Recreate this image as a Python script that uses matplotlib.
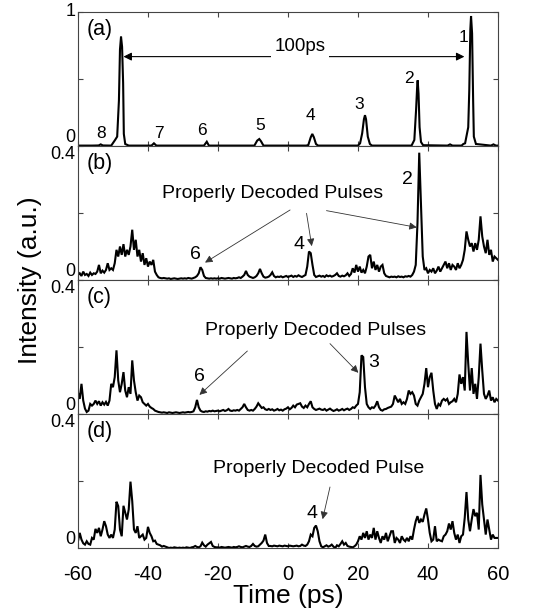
import numpy as np
import matplotlib
matplotlib.use("Agg")
import matplotlib.pyplot as plt

plt.rcParams['font.family'] = ['Liberation Sans', 'DejaVu Sans']
plt.rcParams['axes.unicode_minus'] = False

# ---------------- data ----------------
# (a) encoded pulse train (non-uniform sampling)
t_a = [-60, -56, -54.1, -53.5, -52.9, -50.5, -49.4, -48.8, -48.3, -48.0,
       -47.7, -47.4, -47.1, -46.9, -46.5, -45.5, -39.0, -38.3, -37.6, -24.0,
       -23.2, -22.6, -9.6, -8.8, -8.2, -7.7, -7.0, 5.2, 5.8, 6.5,
       6.95, 7.4, 8.0, 8.6, 20.0, 20.6, 21.2, 21.7, 22.0, 22.3,
       22.8, 23.4, 24.0, 35.3, 36.1, 36.6, 36.9, 37.05, 37.3, 37.6,
       38.0, 38.6, 45.6, 46.3, 47.0, 49.6, 50.1, 50.6, 51.5, 51.8,
       52.1, 52.3, 52.6, 52.9, 53.1, 53.7, 58.0, 58.7, 59.4, 60]
y_a = [0.003, 0.003, 0.004, 0.012, 0.004, 0.003, 0.045, 0.07, 0.34, 0.72,
       0.816, 0.74, 0.47, 0.09, 0.015, 0.003, 0.003, 0.02, 0.003, 0.003,
       0.032, 0.003, 0.003, 0.04, 0.052, 0.035, 0.003, 0.003, 0.007, 0.065,
       0.09, 0.065, 0.015, 0.003, 0.003, 0.02, 0.095, 0.2, 0.23, 0.2,
       0.07, 0.015, 0.003, 0.003, 0.045, 0.27, 0.44, 0.49, 0.39, 0.14,
       0.03, 0.006, 0.003, 0.012, 0.003, 0.003, 0.015, 0.02, 0.14, 0.42,
       0.87, 0.97, 0.84, 0.34, 0.07, 0.015, 0.003, 0.012, 0.003, 0.003]

# (b), (c), (d): decoded traces sampled every 0.5 ps from -60 to 60 ps
y_b = [0.015, 0.02, 0.012, 0.025, 0.015, 0.018, 0.012, 0.022, 0.015, 0.02,
       0.018, 0.025, 0.045, 0.02, 0.028, 0.022, 0.03, 0.05, 0.03, 0.035,
       0.03, 0.05, 0.09, 0.07, 0.1, 0.075, 0.107, 0.07, 0.09, 0.075,
       0.1, 0.15, 0.09, 0.12, 0.07, 0.09, 0.055, 0.08, 0.045, 0.065,
       0.04, 0.055, 0.045, 0.06, 0.025, 0.015, 0.008, 0.006, 0.005, 0.006,
       0.005, 0.004, 0.005, 0.003, 0.004, 0.005, 0.004, 0.003, 0.004, 0.005,
       0.004, 0.005, 0.004, 0.006, 0.005, 0.004, 0.006, 0.008, 0.012, 0.02,
       0.038, 0.03, 0.012, 0.006, 0.005, 0.004, 0.005, 0.004, 0.005, 0.004,
       0.005, 0.004, 0.006, 0.005, 0.004, 0.005, 0.006, 0.005, 0.004, 0.006,
       0.005, 0.006, 0.008, 0.006, 0.01, 0.015, 0.027, 0.015, 0.01, 0.008,
       0.006, 0.008, 0.012, 0.02, 0.033, 0.02, 0.01, 0.007, 0.008, 0.01,
       0.015, 0.023, 0.012, 0.008, 0.01, 0.009, 0.011, 0.008, 0.01, 0.012,
       0.009, 0.011, 0.013, 0.009, 0.012, 0.01, 0.014, 0.011, 0.009, 0.012,
       0.015, 0.04, 0.085, 0.08, 0.045, 0.015, 0.009, 0.011, 0.013, 0.01,
       0.012, 0.009, 0.014, 0.011, 0.013, 0.01, 0.012, 0.015, 0.02, 0.012,
       0.01, 0.013, 0.011, 0.014, 0.02, 0.012, 0.018, 0.035, 0.022, 0.045,
       0.025, 0.04, 0.022, 0.03, 0.02, 0.04, 0.07, 0.075, 0.035, 0.055,
       0.03, 0.045, 0.025, 0.04, 0.045, 0.02, 0.012, 0.01, 0.008, 0.01,
       0.009, 0.01, 0.008, 0.011, 0.009, 0.01, 0.008, 0.011, 0.01, 0.012,
       0.01, 0.015, 0.025, 0.045, 0.17, 0.38, 0.22, 0.07, 0.03, 0.035,
       0.02, 0.03, 0.025, 0.035, 0.02, 0.028, 0.04, 0.025, 0.035, 0.045,
       0.055, 0.035, 0.05, 0.03, 0.045, 0.04, 0.03, 0.05, 0.035, 0.045,
       0.06, 0.09, 0.145, 0.12, 0.1, 0.11, 0.085, 0.11, 0.09, 0.12,
       0.19, 0.13, 0.1, 0.08, 0.12, 0.075, 0.09, 0.055, 0.07, 0.065,
       0.06]

y_c = [0.064, 0.045, 0.09, 0.04, 0.016, 0.006, 0.01, 0.03, 0.025, 0.03,
       0.04, 0.03, 0.038, 0.025, 0.035, 0.028, 0.036, 0.025, 0.04, 0.09,
       0.08, 0.11, 0.19, 0.1, 0.065, 0.09, 0.125, 0.07, 0.05, 0.08,
       0.06, 0.16, 0.1, 0.065, 0.04, 0.055, 0.05, 0.035, 0.03, 0.025,
       0.03, 0.022, 0.018, 0.015, 0.01, 0.008, 0.006, 0.005, 0.004, 0.005,
       0.004, 0.003, 0.005, 0.004, 0.003, 0.004, 0.005, 0.004, 0.003, 0.004,
       0.005, 0.004, 0.005, 0.006, 0.005, 0.006, 0.008, 0.02, 0.042, 0.02,
       0.01, 0.007, 0.006, 0.008, 0.007, 0.009, 0.008, 0.01, 0.008, 0.009,
       0.01, 0.008, 0.01, 0.012, 0.009, 0.011, 0.015, 0.01, 0.009, 0.011,
       0.01, 0.012, 0.01, 0.015, 0.02, 0.03, 0.02, 0.012, 0.01, 0.012,
       0.01, 0.015, 0.022, 0.032, 0.025, 0.018, 0.02, 0.014, 0.012, 0.015,
       0.012, 0.014, 0.01, 0.012, 0.015, 0.011, 0.013, 0.01, 0.014, 0.016,
       0.02, 0.014, 0.018, 0.025, 0.02, 0.028, 0.03, 0.032, 0.022, 0.018,
       0.025, 0.02, 0.03, 0.038, 0.02, 0.015, 0.012, 0.014, 0.016, 0.013,
       0.012, 0.015, 0.01, 0.013, 0.016, 0.012, 0.009, 0.011, 0.014, 0.01,
       0.012, 0.015, 0.011, 0.014, 0.016, 0.012, 0.015, 0.02, 0.018, 0.025,
       0.03, 0.065, 0.175, 0.17, 0.08, 0.03, 0.02, 0.015, 0.02, 0.018,
       0.025, 0.038, 0.02, 0.012, 0.01, 0.014, 0.015, 0.018, 0.02, 0.022,
       0.03, 0.055, 0.045, 0.035, 0.045, 0.03, 0.035, 0.03, 0.045, 0.07,
       0.06, 0.065, 0.055, 0.03, 0.025, 0.04, 0.05, 0.06, 0.09, 0.137,
       0.08, 0.11, 0.123, 0.07, 0.03, 0.015, 0.03, 0.025, 0.04, 0.045,
       0.04, 0.045, 0.03, 0.035, 0.038, 0.045, 0.035, 0.06, 0.118, 0.09,
       0.11, 0.07, 0.245, 0.15, 0.07, 0.137, 0.06, 0.09, 0.045, 0.11,
       0.21, 0.13, 0.06, 0.045, 0.055, 0.07, 0.04, 0.05, 0.035, 0.045,
       0.04]

y_d = [0.02, 0.045, 0.025, 0.014, 0.01, 0.02, 0.012, 0.01, 0.03, 0.025,
       0.057, 0.045, 0.06, 0.035, 0.055, 0.08, 0.065, 0.04, 0.03, 0.04,
       0.03, 0.055, 0.138, 0.125, 0.055, 0.035, 0.126, 0.105, 0.085, 0.115,
       0.198, 0.14, 0.055, 0.045, 0.065, 0.03, 0.035, 0.04, 0.025, 0.03,
       0.063, 0.045, 0.035, 0.02, 0.022, 0.012, 0.01, 0.008, 0.004, 0.006,
       0.004, 0.002, 0.0, 0.001, 0.0, 0.002, 0.001, 0.0, 0.001, 0.0,
       0.001, 0.0, 0.002, 0.001, 0.0, 0.002, 0.003, 0.006, 0.003, 0.002,
       0.005, 0.016, 0.008, 0.004, 0.01, 0.014, 0.018, 0.006, 0.003, 0.002,
       0.002, 0.001, 0.003, 0.002, 0.001, 0.002, 0.003, 0.002, 0.001, 0.003,
       0.002, 0.003, 0.005, 0.003, 0.002, 0.004, 0.006, 0.004, 0.003, 0.006,
       0.012, 0.006, 0.004, 0.005, 0.01, 0.015, 0.022, 0.04, 0.015, 0.006,
       0.006, 0.005, 0.007, 0.006, 0.005, 0.007, 0.006, 0.005, 0.007, 0.006,
       0.005, 0.007, 0.006, 0.005, 0.006, 0.007, 0.005, 0.006, 0.01, 0.007,
       0.006, 0.01, 0.02, 0.04, 0.035, 0.06, 0.067, 0.05, 0.02, 0.005,
       0.002, 0.005, 0.008, 0.004, 0.006, 0.01, 0.004, 0.0, 0.008, 0.005,
       0.012, 0.02, 0.01, 0.015, 0.006, 0.004, 0.003, 0.002, 0.005, 0.01,
       0.02, 0.035, 0.025, 0.045, 0.03, 0.05, 0.025, 0.04, 0.03, 0.06,
       0.025, 0.05, 0.03, 0.015, 0.035, 0.025, 0.045, 0.02, 0.035, 0.05,
       0.05, 0.015, 0.03, 0.025, 0.015, 0.035, 0.025, 0.02, 0.03, 0.02,
       0.035, 0.025, 0.055, 0.08, 0.095, 0.075, 0.085, 0.078, 0.1, 0.118,
       0.085, 0.045, 0.02, 0.025, 0.065, 0.02, 0.025, 0.022, 0.02, 0.035,
       0.04, 0.05, 0.073, 0.055, 0.08, 0.045, 0.025, 0.04, 0.015, 0.035,
       0.04, 0.09, 0.167, 0.085, 0.05, 0.085, 0.116, 0.095, 0.105, 0.055,
       0.218, 0.13, 0.085, 0.04, 0.085, 0.055, 0.025, 0.04, 0.03, 0.03,
       0.03]

panel_labels = ['(a)', '(b)', '(c)', '(d)']
pulse_nums_a = ['8', '7', '6', '5', '4', '3', '2', '1']
pulse_pos_a = [(-53.5, 0.095), (-37.0, 0.095), (-24.7, 0.115), (-8.0, 0.15),
               (6.5, 0.226), (20.4, 0.31), (34.7, 0.505), (50.1, 0.81)]

# ---------------- figure ----------------
fig = plt.figure(figsize=(5.4, 6.09), dpi=100)
gs = fig.add_gridspec(4, 1, left=0.1444, right=0.9222, top=0.9803,
                      bottom=0.1002, hspace=0)
axes = [fig.add_subplot(gs[i]) for i in range(4)]

traces = [(t_a, y_a), (np.linspace(-60, 60, len(y_b)), y_b),
          (np.linspace(-60, 60, len(y_c)), y_c),
          (np.linspace(-60, 60, len(y_d)), y_d)]

frame_col = '#444444'
for i, ax in enumerate(axes):
    t, y = traces[i]
    ax.plot(t, y, color='black', lw=1.5, solid_joinstyle='miter')
    ax.set_xlim(-60, 60)
    ax.set_xticks(range(-60, 61, 20))
    if i == 0:
        ax.set_ylim(0, 1)
        ax.set_yticks([0, 0.5, 1])
        ax.set_yticklabels(['0', '', '1'])
    else:
        ax.set_ylim(0, 0.4)
        ax.set_yticks([0, 0.2, 0.4])
        ax.set_yticklabels(['0', '', '0.4'])
    ax.tick_params(direction='in', top=True, right=True, length=3.5,
                   width=0.8, color=frame_col)
    ax.tick_params(axis='y', labelsize=13, pad=2)
    ax.tick_params(axis='x', labelsize=14.5, pad=12)
    labs = ax.get_yticklabels()
    labs[0].set_va('bottom')
    labs[2].set_va('center' if i == 0 else 'top')
    if i < 3:
        ax.set_xticklabels([])
    for s in ax.spines.values():
        s.set_color(frame_col)
        s.set_linewidth(0.8)
    ylim = ax.get_ylim()[1]
    ax.text(-57.5, 0.87 * ylim, panel_labels[i], fontsize=15.5,
            ha='left', va='center')

# (a) annotations
ax = axes[0]
for s, (x, y) in zip(pulse_nums_a, pulse_pos_a):
    ax.text(x, y, s, fontsize=12.5, ha='center', va='center')
ax.annotate('', xy=(-47.0, 0.667), xytext=(50.4, 0.667),
            arrowprops=dict(arrowstyle='<|-|>', color='black', lw=0.8,
                            mutation_scale=12, shrinkA=0, shrinkB=0))
ax.text(3.4, 0.74, '100ps', fontsize=13.5, ha='center', va='center',
        bbox=dict(facecolor='white', edgecolor='none', pad=2.5))

arrow_kw = dict(arrowstyle='-|>', color='#333333', lw=0.6,
                mutation_scale=11, shrinkA=0, shrinkB=0)

# (b)
ax = axes[1]
ax.text(-4.4, 0.257, 'Properly Decoded Pulses', fontsize=14,
        ha='center', va='center')
ax.annotate('', xy=(-23.7, 0.052), xytext=(0.6, 0.209), arrowprops=arrow_kw)
ax.annotate('', xy=(6.8, 0.101), xytext=(5.3, 0.199), arrowprops=arrow_kw)
ax.annotate('', xy=(36.8, 0.157), xytext=(11.0, 0.207), arrowprops=arrow_kw)
ax.text(34.1, 0.30, '2', fontsize=14, ha='center', va='center')
ax.text(3.1, 0.105, '4', fontsize=14, ha='center', va='center')
ax.text(-26.3, 0.075, '6', fontsize=14, ha='center', va='center')

# (c)
ax = axes[2]
ax.text(8.0, 0.249, 'Properly Decoded Pulses', fontsize=14,
        ha='center', va='center')
ax.annotate('', xy=(-25.3, 0.057), xytext=(-11.6, 0.188), arrowprops=arrow_kw)
ax.annotate('', xy=(20.1, 0.123), xytext=(12.0, 0.21), arrowprops=arrow_kw)
ax.text(-25.3, 0.113, '6', fontsize=14, ha='center', va='center')
ax.text(24.6, 0.155, '3', fontsize=14, ha='center', va='center')

# (d)
ax = axes[3]
ax.text(8.7, 0.236, 'Properly Decoded Pulse', fontsize=14,
        ha='center', va='center')
ax.annotate('', xy=(9.9, 0.086), xytext=(12.0, 0.182), arrowprops=arrow_kw)
ax.text(6.8, 0.103, '4', fontsize=14, ha='center', va='center')

ax.set_xlabel('Time (ps)', fontsize=19, labelpad=0)
fig.text(0.056, 0.54, 'Intensity (a.u.)', fontsize=19, rotation=90,
         ha='center', va='center')

fig.savefig('out.png', dpi=100)
